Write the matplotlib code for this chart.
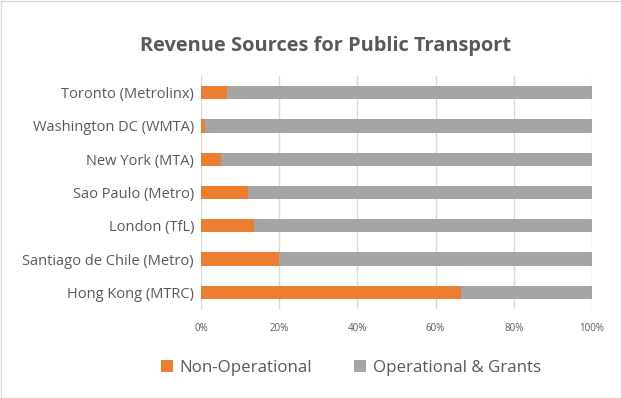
import matplotlib.pyplot as plt
import matplotlib.ticker as mticker
from matplotlib.patches import Rectangle
import numpy as np

# data, top to bottom as shown
cities = ['Toronto (Metrolinx)', 'Washington DC (WMTA)', 'New York (MTA)',
          'Sao Paulo (Metro)', 'London (TfL)', 'Santiago de Chile (Metro)',
          'Hong Kong (MTRC)']
non_operational = [6.6, 1.0, 5.1, 12.0, 13.6, 20.0, 66.5]
operational_grants = [100 - v for v in non_operational]

orange = '#ED7D31'
grey = '#A5A5A5'
text_col = '#595959'

plt.rcParams['font.family'] = ['Open Sans', 'DejaVu Sans']

fig = plt.figure(figsize=(6.21, 3.98), dpi=100)
ax = fig.add_axes([201/621, 1 - 309/398, 391/621, 233/398])

y = np.arange(len(cities))[::-1]
ax.barh(y, non_operational, height=0.4, color=orange, label='Non-Operational', zorder=3)
ax.barh(y, operational_grants, left=non_operational, height=0.4, color=grey,
        label='Operational & Grants', zorder=3)

ax.set_xlim(0, 100)
ax.set_ylim(-0.5, len(cities) - 0.5)
ax.set_yticks(y)
ax.set_yticklabels(cities, fontsize=10.5, color=text_col)
ax.set_xticks(np.arange(0, 101, 20))
ax.xaxis.set_major_formatter(mticker.FuncFormatter(lambda v, p: f'{int(v)}%'))
ax.tick_params(axis='x', labelsize=7, colors=text_col, length=0, pad=10)
ax.tick_params(axis='y', length=0, pad=5)
ax.grid(axis='x', color='#D9D9D9', linewidth=1, zorder=0)
for s in ax.spines.values():
    s.set_visible(False)

fig.text(325.5/621, 1 - 46/398, 'Revenue Sources for Public Transport', ha='center', va='center',
         fontsize=14.4, fontweight='bold', color=text_col)

leg = fig.legend(loc='center', bbox_to_anchor=(351/621, 1 - 368/398), ncol=2, frameon=False,
                 fontsize=12.2, handlelength=0.7, handleheight=0.7, handletextpad=0.4,
                 columnspacing=2.5, labelcolor=text_col)

fig.patches.append(Rectangle((0.5/621, 0.5/398), 1 - 1/621, 1 - 1/398, transform=fig.transFigure,
                             fill=False, edgecolor='#D9D9D9', linewidth=1))

fig.savefig('out.png', dpi=100)
